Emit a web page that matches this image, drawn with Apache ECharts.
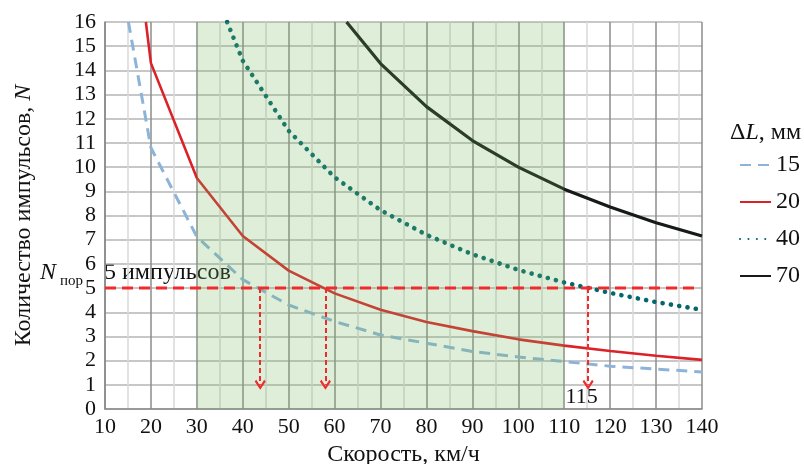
<!DOCTYPE html>
<html>
<head>
<meta charset="utf-8">
<script src="https://cdn.jsdelivr.net/npm/echarts/dist/echarts.min.js"></script>
<style>
  html, body { margin: 0; background: #fff; }
  #chart { width: 804px; height: 464px; }
</style>
</head>
<body>
<div id="chart"></div>
<script>
// ΔL = 15, 20, 40, 70 мм: скорость (км/ч) -> количество импульсов N
var speed15 = [15.1, 20, 30, 40, 50, 60, 70, 80, 90, 100, 110, 120, 130, 140];
var pulses15 = [16, 10.8, 7.12, 5.35, 4.3, 3.62, 3.06, 2.72, 2.38, 2.15, 1.96, 1.77, 1.65, 1.53];

var speed20 = [18.9, 20, 30, 40, 50, 60, 70, 80, 90, 100, 110, 120, 130, 140];
var pulses20 = [16, 14.3, 9.55, 7.15, 5.72, 4.78, 4.1, 3.6, 3.22, 2.88, 2.62, 2.4, 2.2, 2.03];

var speed40 = [36.6, 40, 50, 60, 70, 80, 90, 100, 110, 120, 130, 140];
var pulses40 = [16, 14.4, 11.5, 9.58, 8.22, 7.2, 6.4, 5.75, 5.23, 4.8, 4.42, 4.1];

var speed70 = [62.6, 70, 80, 90, 100, 110, 120, 130, 140];
var pulses70 = [16, 14.28, 12.5, 11.1, 10, 9.09, 8.35, 7.7, 7.15];

// порог и отсчёты скорости
var thresholdN = 5;
var thresholdSpan = [10, 138.6];
var arrowSpeeds = [43.8, 58, 115.2];
var arrowEndN = 1;
var bandSpeeds = [30, 110];   // зелёная зона

var SERIF = '"Liberation Serif", "DejaVu Serif", serif';
var chevron = 'path://M5,0 L10,7 L8.6,8.4 L5,3.2 L1.4,8.4 L0,7 Z';

function pairs(xs, ys) {
  return xs.map(function (x, i) { return [x, ys[i]]; });
}

var chart = echarts.init(document.getElementById('chart'));

var arrowLines = arrowSpeeds.map(function (v) {
  return [{ coord: [v, thresholdN] }, { coord: [v, arrowEndN] }];
});

var option = {
  animation: false,
  backgroundColor: '#fff',
  grid: { left: 105, right: 102, top: 22, bottom: 55, containLabel: false, outerBoundsMode: 'none' },
  legend: {
    data: ['15', '20', '40', '70'],
    orient: 'vertical',
    left: 734,
    top: 147,
    itemWidth: 31,
    itemHeight: 12,
    itemGap: 11,
    itemStyle: { opacity: 0 },
    textStyle: { fontFamily: SERIF, fontSize: 24, color: '#111', lineHeight: 26 }
  },
  graphic: [
    {
      type: 'text', left: 730, top: 121,
      style: {
        text: '{a|Δ}{i|L}{a|, мм}',
        rich: {
          a: { fontFamily: SERIF, fontSize: 24, fill: '#111' },
          i: { fontFamily: SERIF, fontSize: 24, fontStyle: 'italic', fill: '#111' }
        }
      }
    },
    {
      type: 'text', left: 40, top: 261,
      style: {
        text: '{n|N}{s|пор}',
        rich: {
          n: { fontFamily: SERIF, fontSize: 24, fontStyle: 'italic', fill: '#111' },
          s: { fontFamily: SERIF, fontSize: 15, fill: '#111', verticalAlign: 'bottom', padding: [16, 0, 0, 4] }
        }
      }
    },
    {
      type: 'text', left: 104, top: 261,
      style: { text: '5 импульсов', fontFamily: SERIF, fontSize: 24, fill: '#111' }
    }
  ],
  xAxis: {
    type: 'value', min: 10, max: 140, interval: 10,
    name: 'Скорость, км/ч', nameLocation: 'middle', nameGap: 29,
    nameTextStyle: { fontFamily: SERIF, fontSize: 24, color: '#111' },
    axisLine: { show: true, lineStyle: { color: '#8a8a8a', width: 1.5 } },
    axisTick: { show: false },
    axisLabel: { fontFamily: SERIF, fontSize: 22, color: '#111', margin: 7 },
    splitLine: { show: true, lineStyle: { color: '#8c8c8c', width: 1.5 } },
    minorTick: { show: false, splitNumber: 2 },
    minorSplitLine: { show: true, lineStyle: { color: '#d9d9d9', width: 1.5 } }
  },
  yAxis: {
    type: 'value', min: 0, max: 16, interval: 1,
    name: '{a|Количество импульсов, }{i|N}', nameLocation: 'middle', nameGap: 69, nameRotate: 90,
    nameTextStyle: {
      rich: {
        a: { fontFamily: SERIF, fontSize: 24, color: '#111' },
        i: { fontFamily: SERIF, fontSize: 24, fontStyle: 'italic', color: '#111' }
      }
    },
    axisLine: { show: true, lineStyle: { color: '#8a8a8a', width: 1.5 } },
    axisTick: { show: false },
    axisLabel: { fontFamily: SERIF, fontSize: 22, color: '#111', margin: 9 },
    splitLine: { show: true, lineStyle: { color: '#b4b4b4', width: 1.5 } }
  },
  series: [
    {
      name: '15', type: 'line', symbol: 'none', z: 2,
      data: pairs(speed15, pulses15),
      lineStyle: { color: '#8db4d8', width: 3, type: [11, 7] },
      itemStyle: { color: '#8db4d8' },
      markArea: {
        silent: true, z: 3,
        itemStyle: { color: 'rgba(112, 182, 92, 0.23)' },
        data: [[{ xAxis: bandSpeeds[0], yAxis: 0 }, { xAxis: bandSpeeds[1], yAxis: 16 }]]
      }
    },
    {
      name: '20', type: 'line', symbol: 'none', z: 2,
      data: pairs(speed20, pulses20),
      lineStyle: { color: '#dc2229', width: 2.6 },
      itemStyle: { color: '#dc2229' }
    },
    {
      name: '40', type: 'line', symbol: 'none', z: 2,
      data: pairs(speed40, pulses40),
      lineStyle: { color: '#05676c', width: 4.6, type: [0.1, 8.3], cap: 'round' },
      itemStyle: { color: '#05676c' }
    },
    {
      name: '70', type: 'line', symbol: 'none', z: 2,
      data: pairs(speed70, pulses70),
      lineStyle: { color: '#161a18', width: 3.2 },
      itemStyle: { color: '#161a18' }
    },
    {
      name: 'порог', type: 'line', symbol: 'none', z: 5,
      data: [[thresholdSpan[0], thresholdN], [thresholdSpan[1], thresholdN]],
      lineStyle: { color: '#ef2b2b', width: 3, type: [11, 6] },
      markLine: {
        silent: true, z: 6,
        symbol: ['none', chevron],
        symbolSize: [11, 10],
        label: { show: false },
        lineStyle: { color: '#ef2b2b', width: 2, type: [5, 3] },
        itemStyle: { color: '#ef2b2b' },
        data: arrowLines
      }
    }
  ]
};

chart.setOption(option);

// подпись скорости у правой стрелки
var p = chart.convertToPixel({ gridIndex: 0 }, [arrowSpeeds[2] - 1.4, 0.5]);
chart.setOption({
  graphic: option.graphic.concat([{
    type: 'text', x: p[0], y: p[1],
    style: { text: '115', fontFamily: SERIF, fontSize: 22, fill: '#111', align: 'center', verticalAlign: 'middle' }
  }])
});
</script>
</body>
</html>
